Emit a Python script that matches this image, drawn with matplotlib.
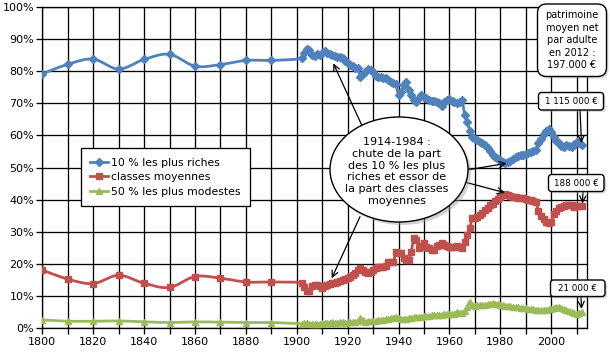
import numpy as np
import matplotlib
matplotlib.use("Agg")
import matplotlib.pyplot as plt
from matplotlib.patches import Ellipse, FancyBboxPatch
from matplotlib.lines import Line2D

# ---------------- data ----------------
years_early = [1800, 1810, 1820, 1830, 1840, 1850, 1860, 1870, 1880, 1890]
top10_early = [79.1, 82.1, 83.7, 80.6, 83.6, 85.2, 81.5, 82.0, 83.3, 83.3]
middle_early = [18.1, 15.3, 13.9, 16.5, 14.0, 12.7, 16.1, 15.6, 14.4, 14.4]
bottom50_early = [2.6, 2.2, 2.2, 2.3, 2.0, 1.8, 2.0, 1.9, 1.8, 1.8]

years_annual = list(range(1902, 2013))
top10_annual = [
    83.9, 85.5, 86.8, 86.5, 85.0, 84.8, 85.3, 85.0, 85.5, 86.2,   # 1902-1911
    85.5, 85.2, 85.0, 84.7, 84.5, 84.3, 83.9, 83.2, 82.5, 82.0,   # 1912-1921
    81.5, 81.0, 80.8, 78.2, 79.0, 79.8, 80.6, 80.3, 79.8, 78.5,   # 1922-1931
    78.2, 78.0, 77.8, 77.7, 77.3, 76.7, 76.2, 75.9, 72.5, 73.6,   # 1932-1941
    75.5, 76.7, 74.1, 72.5, 71.0, 70.5, 71.5, 72.5, 72.0, 71.5,   # 1942-1951
    71.0, 70.8, 70.6, 70.5, 70.0, 69.1, 70.5, 71.0, 71.2, 70.8,   # 1952-1961
    70.5, 70.0, 70.5, 71.0, 66.3, 64.2, 61.5, 59.6, 59.0, 58.5,   # 1962-1971
    58.0, 57.5, 57.0, 56.0, 55.0, 54.0, 53.3, 52.6, 52.2, 51.6,   # 1972-1981
    51.3, 51.6, 52.0, 52.7, 53.3, 53.5, 53.8, 54.0, 54.2, 54.4,   # 1982-1991
    54.8, 55.1, 55.4, 57.5, 59.0, 60.5, 61.5, 62.0, 61.0, 59.5,   # 1992-2001
    58.3, 57.5, 56.6, 56.5, 57.0, 56.8, 56.5, 57.2, 58.0, 57.5,   # 2002-2011
    57.0]                                                           # 2012
middle_annual = [
    14.2, 12.9, 11.7, 11.5, 13.3, 13.5, 13.4, 13.0, 12.4, 13.0,
    13.5, 13.8, 14.0, 14.2, 14.5, 14.7, 15.0, 15.3, 15.7, 16.0,
    16.6, 17.1, 18.0, 18.7, 18.0, 17.5, 17.1, 17.5, 18.0, 18.6,
    19.2, 19.2, 19.2, 19.3, 20.5, 20.7, 20.7, 23.8, 23.5, 23.3,
    22.0, 21.2, 21.2, 23.8, 28.0, 27.5, 25.0, 25.5, 26.4, 25.2,
    24.9, 24.5, 24.5, 25.5, 26.0, 26.4, 26.0, 25.5, 25.3, 25.2,
    25.3, 25.6, 25.3, 24.9, 26.9, 29.0, 31.1, 34.2, 34.4, 34.7,
    35.2, 35.8, 36.8, 37.5, 38.2, 38.8, 39.6, 40.2, 40.9, 41.3,
    41.8, 41.5, 41.1, 40.9, 40.7, 40.6, 40.5, 40.4, 40.2, 40.0,
    39.8, 39.5, 39.2, 36.5, 35.0, 34.0, 33.2, 32.6, 33.1, 35.5,
    36.5, 37.3, 37.6, 38.0, 38.2, 38.3, 38.2, 37.8, 38.0, 37.9,
    38.0]
bottom50_annual = [
    1.4, 1.5, 1.5, 1.4, 1.3, 1.2, 1.2, 1.4, 1.6, 1.5,
    1.6, 1.7, 1.9, 1.8, 1.8, 1.9, 1.9, 1.8, 1.9, 1.9,
    1.9, 2.0, 2.2, 3.1, 2.5, 2.1, 2.2, 2.3, 2.4, 2.4,
    2.5, 2.6, 2.7, 2.8, 2.9, 3.1, 3.3, 3.6, 3.3, 3.0,
    2.9, 3.0, 3.2, 3.3, 3.4, 3.4, 3.5, 3.6, 3.7, 3.8,
    3.9, 4.0, 4.0, 4.1, 4.1, 4.2, 4.3, 4.4, 4.5, 4.3,
    4.4, 5.2, 4.9, 4.7, 5.5, 6.7, 8.3, 7.2, 7.0, 7.1,
    7.1, 7.2, 7.3, 7.5, 7.6, 7.8, 7.7, 7.5, 7.3, 7.2,
    7.0, 6.9, 6.8, 6.7, 6.6, 6.5, 6.4, 6.3, 6.2, 6.1,
    6.0, 5.9, 5.8, 5.7, 5.7, 5.8, 5.8, 5.9, 6.1, 6.4,
    6.7, 6.5, 6.2, 5.9, 5.7, 5.5, 5.2, 4.8, 4.3, 4.7,
    5.2]

series_labels = ["10 % les plus riches", "classes moyennes", "50 % les plus modestes"]
y_ticks = [0, 10, 20, 30, 40, 50, 60, 70, 80, 90, 100]
x_tick_labels = [1800, 1820, 1840, 1860, 1880, 1900, 1920, 1940, 1960, 1980, 2000]

ellipse_text = "1914-1984 :\nchute de la part\ndes 10 % les plus\nriches et essor de\nla part des classes\nmoyennes"
box_text = "patrimoine\nmoyen net\npar adulte\nen 2012 :\n197.000 €"
value_labels = ["1 115 000 €", "188 000 €", "21 000 €"]

# ---------------- styling ----------------
colors = ["#4F81BD", "#C0504D", "#9BBB59"]
markers = ["D", "s", "^"]
msizes = [4.2, 4.0, 4.4]

W, H = 610, 352
fig = plt.figure(figsize=(W / 100, H / 100), dpi=100)
fig.patch.set_facecolor("white")

def fp(x, y):
    """figure-pixel (from top-left) to figure fraction"""
    return (x / W, 1 - y / H)

ax = fig.add_axes([42.3 / W, 1 - 328.3 / H, (587.3 - 42.3) / W, (328.3 - 6.7) / H])
ax.set_xlim(1800, 2014.2)
ax.set_ylim(0, 100)

# gridlines
ax.set_xticks(np.arange(1800, 2011, 10))
ax.set_xticklabels([str(int(t)) if int(t) in x_tick_labels else "" for t in np.arange(1800, 2011, 10)])
ax.set_yticks(y_ticks)
ax.set_yticklabels([f"{v}%" for v in y_ticks])
ax.grid(True, color="black", lw=0.95)
ax.set_axisbelow(True)
for s in ax.spines.values():
    s.set_color("black")
    s.set_linewidth(0.95)
ax.tick_params(axis="both", direction="out", length=4, width=0.95, color="black",
               labelsize=8, labelcolor="black", pad=2)


def smooth(xs, ys, n=10):
    xs = np.asarray(xs, float)
    ys = np.asarray(ys, float)
    sx, sy = 2.544, 3.216
    P = np.column_stack([xs * sx, ys * sy])
    Pp = np.vstack([P[0], P, P[-1]])
    out = []
    t = np.linspace(0, 1, n, endpoint=False)[:, None]
    for i in range(len(P) - 1):
        p0, p1, p2, p3 = Pp[i], Pp[i + 1], Pp[i + 2], Pp[i + 3]
        c1 = p1 + (p2 - p0) / 6.0
        c2 = p2 - (p3 - p1) / 6.0
        seg = ((1 - t) ** 3) * p1 + 3 * ((1 - t) ** 2) * t * c1 + 3 * (1 - t) * t ** 2 * c2 + t ** 3 * p2
        out.append(seg)
    out.append(P[-1][None, :])
    out = np.vstack(out)
    return out[:, 0] / sx, out[:, 1] / sy


all_series = [
    (top10_early, top10_annual),
    (middle_early, middle_annual),
    (bottom50_early, bottom50_annual),
]
handles = []
for (early, annual), c, m, ms, lab in zip(all_series, colors, markers, msizes, series_labels):
    xs = years_early + years_annual
    ys = early + annual
    sxs, sys_ = smooth(xs, ys)
    ax.plot(sxs, sys_, color=c, lw=2.0, zorder=3, solid_capstyle="round")
    ax.plot(xs, ys, ls="none", marker=m, ms=ms, color=c, mec=c, zorder=4)
    handles.append(Line2D([], [], color=c, lw=2.0, marker=m, ms=ms, mec=c))

leg = ax.legend(handles, series_labels, loc="upper left",
                bbox_to_anchor=fp(81, 148.5), bbox_transform=fig.transFigure,
                fontsize=7.8, frameon=True, fancybox=False, framealpha=1,
                edgecolor="black", borderpad=0.85, labelspacing=0.42,
                handlelength=1.6, handletextpad=0.35, borderaxespad=0, numpoints=1)
leg.get_frame().set_linewidth(0.95)
leg.set_zorder(6)

# ---------------- annotations ----------------
arrow_kw = dict(arrowstyle="->,head_length=0.45,head_width=0.22", color="black", lw=0.9,
                shrinkA=0, shrinkB=0)

def arrow(tail, head):
    ax.annotate("", xy=(head[0], H - head[1]), xycoords="figure pixels",
                xytext=(tail[0], H - tail[1]), textcoords="figure pixels",
                arrowprops=arrow_kw, zorder=7, annotation_clip=False)

# ellipse with shadow
cx, cy = fp(399, 169.5)
shadow = Ellipse((cx + 3 / W, cy - 3 / H), 138 / W, 105 / H, transform=fig.transFigure,
                 facecolor="#9a9a9a", edgecolor="none", alpha=0.45, zorder=5)
fig.add_artist(shadow)
ell = Ellipse((cx, cy), 138 / W, 105 / H, transform=fig.transFigure,
              facecolor="white", edgecolor="black", lw=1.0, zorder=6)
fig.add_artist(ell)
tx, ty = fp(397, 171.5)
fig.text(tx, ty, ellipse_text, ha="center", va="center", multialignment="center",
         fontsize=8, linespacing=1.22, zorder=8)

arrow((361.7, 125), (333.3, 63.3))
arrow((466.7, 170), (506.7, 163.3))
arrow((463.3, 181.7), (505, 192.7))
arrow((360, 216.7), (331.7, 278.3))


def rbox(x0, y0, x1, y1, text, fs, ls=1.2, pad=4):
    fx0, fy1 = fp(x0, y0)
    fx1, fy0 = fp(x1, y1)
    sh = FancyBboxPatch((fx0 + 2 / W, fy0 - 2 / H), fx1 - fx0, fy1 - fy0,
                        boxstyle=f"round,pad=0,rounding_size={pad / W}",
                        transform=fig.transFigure, facecolor="#a0a0a0",
                        edgecolor="none", alpha=0.4, zorder=5, mutation_aspect=W / H)
    fig.add_artist(sh)
    b = FancyBboxPatch((fx0, fy0), fx1 - fx0, fy1 - fy0,
                       boxstyle=f"round,pad=0,rounding_size={pad / W}",
                       transform=fig.transFigure, facecolor="white",
                       edgecolor="black", lw=1.0, zorder=6, mutation_aspect=W / H)
    fig.add_artist(b)
    fig.text((fx0 + fx1) / 2, (fy0 + fy1) / 2, text, ha="center", va="center",
             multialignment="center", fontsize=fs, linespacing=ls, zorder=8)


rbox(537.5, 4, 606.5, 76.5, box_text, 7.0, ls=1.3, pad=9)
rbox(538.5, 92.5, 603.5, 110, value_labels[0], 6.3, pad=3)
rbox(548.5, 174.5, 604, 191.5, value_labels[1], 6.3, pad=3)
rbox(550.5, 280, 605, 296.5, value_labels[2], 6.3, pad=3)

arrow((580, 110), (581.5, 143))
arrow((583, 191.5), (582.5, 203.5))
arrow((581, 296.5), (581.5, 309))

fig.savefig("out.png", dpi=100, facecolor="white")
